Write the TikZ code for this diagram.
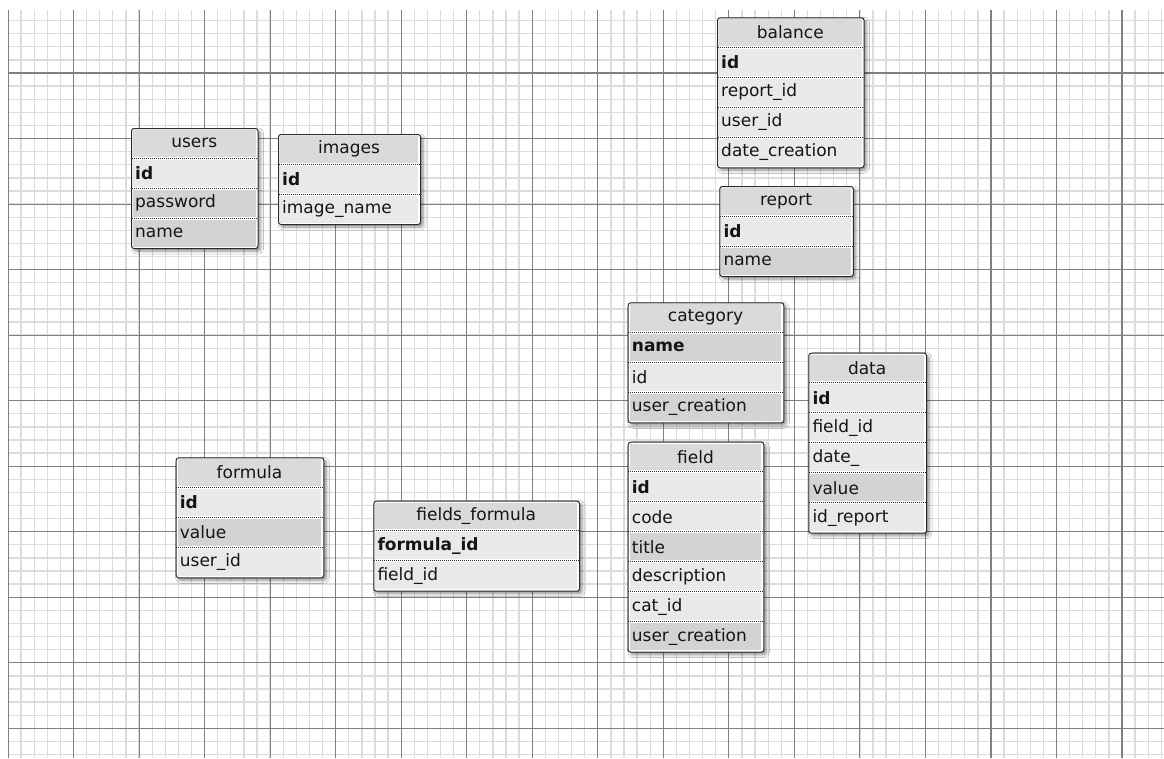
\documentclass[tikz,border=0pt]{standalone}
\usepackage{fontspec}
\setmainfont{DejaVu Sans}
\usetikzlibrary{shadows.blur}
\definecolor{minorc}{HTML}{DCDCDC}
\definecolor{majorc}{HTML}{808080}
\definecolor{hdrc}{HTML}{DADADA}
\definecolor{lightc}{HTML}{E9E9E9}
\definecolor{darkc}{HTML}{D3D3D3}
\definecolor{borderc}{HTML}{2B2B2B}
\definecolor{txtc}{HTML}{151515}
\tikzset{
  minorline/.style={minorc, line width=1.3pt},
  majorline/.style={majorc, line width=1.1pt},
  tblframe/.style={draw=borderc, line width=1pt, rounded corners=2.5pt, fill=white, inner sep=0pt,
    blur shadow={shadow xshift=2.5pt, shadow yshift=-2.5pt, shadow blur steps=6, shadow blur radius=3pt, shadow opacity=45}},
  sepline/.style={borderc, line width=0.8pt, dash pattern=on 1pt off 1pt},
  rowtext/.style={text=txtc, font=\fontsize{17}{20}\selectfont, inner sep=0pt, anchor=west},
  hdrtext/.style={text=txtc, font=\fontsize{17}{20}\selectfont, inner sep=0pt},
  bold/.style={font=\fontsize{17}{20}\selectfont\bfseries},
  plain/.style={},
}
% #1 name, #2 x, #3 y, #4 width, #5 height, #6 title, #7 rows
\newcommand\dbtable[7]{%
  \node[tblframe, anchor=north west, minimum width=#4pt, minimum height=#5pt] (#1) at (#2,#3) {};
  \fill[hdrc] (#2+2,#3+2) rectangle (#2+#4-2,#3+28.5);
  \node[hdrtext] (#1-title) at (#2+#4/2,#3+15) {#6};
  \foreach \t/\f/\c [count=\i] in {#7} {
    \fill[\c] (#2+2,#3+30*\i+1.5) rectangle (#2+#4-2,#3+30*\i+28.5);
    \draw[sepline] (#2+0.5,#3+30*\i) -- (#2+#4-0.5,#3+30*\i);
    \node[rowtext,\f] (#1-\i) at (#2+4,#3+30*\i+15) {\t};
  }
}
\begin{document}
\begin{tikzpicture}[x=1pt,y=-1pt]
\useasboundingbox (0,0) rectangle (1164,758);
\fill[white] (0,0) rectangle (1164,758);
\begin{scope}
  \clip (8,10) rectangle (1164,758);
  \foreach \i in {0,...,88} \draw[minorline] (8+\i*13.106,10) -- (8+\i*13.106,758);
  \foreach \j in {0,...,57} \draw[minorline] (8,7.47+\j*13.106) -- (1164,7.47+\j*13.106);
  \foreach \i in {0,...,17} \draw[majorline] (8+\i*65.53,10) -- (8+\i*65.53,758);
  \foreach \j in {1,...,11} \draw[majorline] (8,7.47+\j*65.53) -- (1164,7.47+\j*65.53);
\end{scope}

\dbtable{users}{131}{128}{126.5}{120}{users}{id/bold/lightc, password/plain/darkc, name/plain/darkc}
\dbtable{images}{278}{134}{142}{90}{images}{id/bold/lightc, image\_name/plain/lightc}
\dbtable{balance}{717}{17.3}{146.5}{150}{balance}{id/bold/lightc, report\_id/plain/lightc, user\_id/plain/lightc, date\_creation/plain/lightc}
\dbtable{report}{719.3}{186}{133.5}{90}{report}{id/bold/lightc, name/plain/darkc}
\dbtable{category}{627.7}{302.3}{155.6}{120}{category}{name/bold/darkc, id/plain/lightc, user\_creation/plain/darkc}
\dbtable{data}{808.3}{352.7}{117.7}{180}{data}{id/bold/lightc, field\_id/plain/lightc, date\_/plain/lightc, value/plain/darkc, id\_report/plain/lightc}
\dbtable{field}{627.7}{441.7}{135.6}{210}{field}{id/bold/lightc, code/plain/lightc, title/plain/darkc, description/plain/lightc, cat\_id/plain/lightc, user\_creation/plain/darkc}
\dbtable{formula}{175.7}{457.3}{147.6}{120}{formula}{id/bold/lightc, value/plain/darkc, user\_id/plain/lightc}
\dbtable{fieldsformula}{373.3}{500.7}{205.7}{90}{fields\_formula}{formula\_id/bold/lightc, field\_id/plain/lightc}
\end{tikzpicture}
\end{document}
